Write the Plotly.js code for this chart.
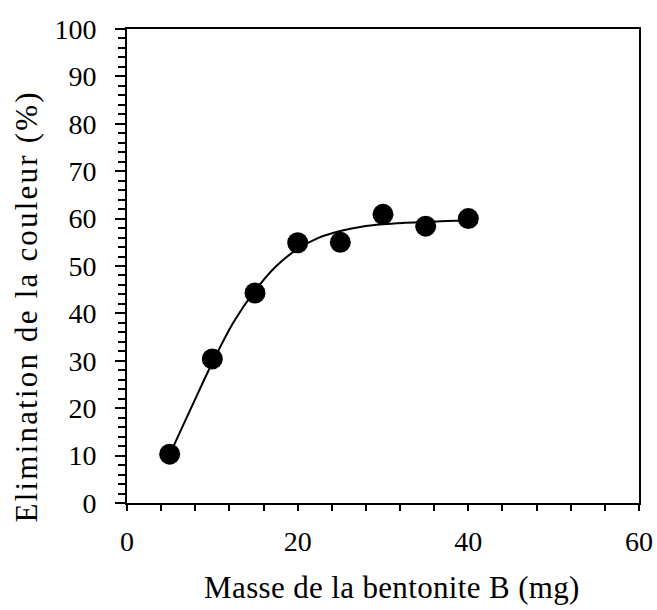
<!DOCTYPE html>
<html>
<head>
<meta charset="utf-8">
<script src="https://cdn.plot.ly/plotly-3.0.1.min.js"></script>
<style>
html,body{margin:0;padding:0;background:#fff;}
#chart{width:657px;height:610px;}
.annotation[data-index="0"] text{letter-spacing:0.35px;}
.annotation[data-index="1"] text{letter-spacing:2.2px;}
</style>
</head>
<body>
<div id="chart"></div>
<script>
// Measured points
const masse = [5, 10, 15, 20, 25, 30, 35, 40];
const elimination = [10.3, 30.4, 44.3, 54.9, 55.0, 60.9, 58.4, 60.0];
// Fitted curve
const curveX = [5, 7.5, 10, 12.5, 15, 17.5, 20, 22.5, 25, 27.5, 30, 32.5, 35, 37.5, 40];
const curveY = [10.2, 20.0, 29.6, 38.2, 44.8, 50.0, 53.6, 56.0, 57.4, 58.3, 58.8, 59.1, 59.3, 59.5, 59.6];
const xTitle = 'Masse de la bentonite B (mg)';
const yTitle = 'Elimination de la couleur (%)';

const font = {family: 'Liberation Serif, Times New Roman, serif', color: '#000'};
const f = s => Object.assign({size: s}, font);

const traces = [
  {x: curveX, y: curveY, mode: 'lines', line: {color: '#000', width: 2, shape: 'spline'}, hoverinfo: 'skip', showlegend: false},
  {x: masse, y: elimination, mode: 'markers', marker: {color: '#000', size: 21}, showlegend: false}
];

const layout = {
  width: 657, height: 610,
  margin: {l: 126.5, r: 18, t: 28.5, b: 106.5},
  paper_bgcolor: '#fff', plot_bgcolor: '#fff',
  font: f(28),
  showlegend: false,
  xaxis: {
    range: [0, 60], tickvals: [0, 20, 40, 60], ticks: 'outside', ticklen: 6, tickwidth: 2, tickcolor: '#000',
    minor: {dtick: 4, tick0: 0, ticks: 'outside', ticklen: 6, tickwidth: 2, tickcolor: '#000'},
    showline: true, linewidth: 2, linecolor: '#000', mirror: true, showgrid: false, zeroline: false,
    tickfont: f(28), ticklabelstandoff: 6
  },
  yaxis: {
    range: [0, 100], dtick: 10, ticks: 'outside', ticklen: 10, tickwidth: 2, tickcolor: '#000',
    minor: {dtick: 2, ticks: 'outside', ticklen: 7, tickwidth: 2, tickcolor: '#000'},
    showline: true, linewidth: 2, linecolor: '#000', mirror: true, showgrid: false, zeroline: false,
    tickfont: f(28), ticklabelstandoff: 13
  },
  annotations: [
    {text: xTitle, xref: 'paper', yref: 'paper', x: 0.518, y: -0.178, xanchor: 'center', yanchor: 'middle',
     showarrow: false, font: f(31)},
    {text: yTitle, xref: 'paper', yref: 'paper', x: -0.196, y: 0.4137, xanchor: 'center', yanchor: 'middle',
     textangle: -90, showarrow: false, font: f(31)}
  ]
};

Plotly.newPlot('chart', traces, layout, {displayModeBar: false, staticPlot: true});
</script>
</body>
</html>
